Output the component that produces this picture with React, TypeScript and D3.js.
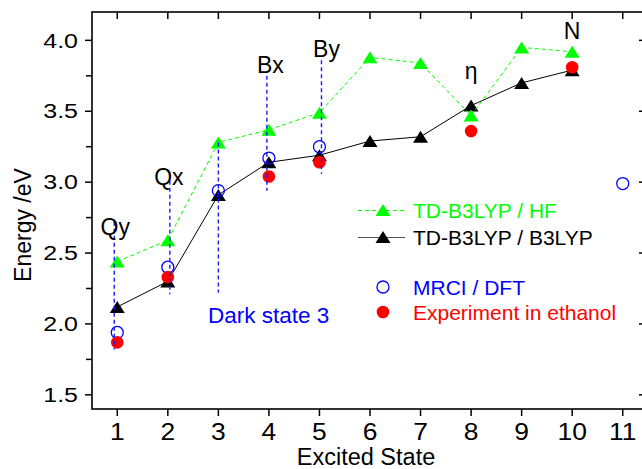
import React from 'react';
import * as d3 from 'd3';

// excited state index 1..10 (11 only for MRCI)
const states = [1, 2, 3, 4, 5, 6, 7, 8, 9, 10];
const hfValues = [2.44, 2.59, 3.28, 3.37, 3.49, 3.88, 3.84, 3.47, 3.95, 3.92];
const b3lypValues = [2.12, 2.3, 2.91, 3.14, 3.19, 3.29, 3.32, 3.54, 3.7, 3.79];
const mrciStates = [1, 2, 3, 4, 5, 11];
const mrciValues = [1.94, 2.4, 2.94, 3.17, 3.25, 2.99];
const exptStates = [1, 2, 4, 5, 8, 10];
const exptValues = [1.87, 2.33, 3.04, 3.14, 3.36, 3.81];

const xTicks = [1, 2, 3, 4, 5, 6, 7, 8, 9, 10, 11];
const yTicks = [1.5, 2.0, 2.5, 3.0, 3.5, 4.0];
const yMinorTicks = [1.75, 2.25, 2.75, 3.25, 3.75];

// blue dashed markers for assigned states
const markX = [0.94, 2.04, 3, 3.96, 5.04];
const markTop = [2.72, 3.01, 3.28, 3.75, 3.86];
const markBottom = [1.82, 2.21, 2.22, 2.94, 3.06];

const stateLabels = ['Qy', 'Qx', 'Bx', 'By', 'η', 'N'];
const labelX = [0.96, 2.02, 4.03, 5.14, 8.0, 10.0];
const labelY = [2.63, 2.98, 3.77, 3.88, 3.73, 4.01];

const W = 642;
const H = 469;
const left = 92, right = 648, top = 12, bottom = 409;
const FONT = '"Liberation Sans", Arial, sans-serif';

const tri = (x: number, y: number) => `M${x},${y - 6}L${x + 7.5},${y + 6}L${x - 7.5},${y + 6}Z`;

export default function App() {
  const x = d3.scaleLinear().domain([0.5, 11.5]).range([left, right]);
  const y = d3.scaleLinear().domain([1.4, 4.2]).range([bottom, top]);

  const line = d3.line<number>()
    .x((d, i) => x(states[i]))
    .y(d => y(d));

  return (
    <svg width={W} height={H} style={{ position: 'absolute', left: 0, top: 0, background: '#fff' }} fontFamily={FONT}>
      {/* series */}
      <path d={line(b3lypValues) || ''} fill="none" stroke="#000" strokeWidth={1} />
      {b3lypValues.map((v, i) => <path key={'b' + i} d={tri(x(states[i]), y(v))} fill="#000" />)}
      <path d={line(hfValues) || ''} fill="none" stroke="#00ff00" strokeWidth={1} strokeDasharray="4,3" />
      {hfValues.map((v, i) => <path key={'g' + i} d={tri(x(states[i]), y(v))} fill="#00ff00" />)}
      {mrciValues.map((v, i) => (
        <circle key={'m' + i} cx={x(mrciStates[i])} cy={y(v)} r={6} fill="none" stroke="#0000ff" strokeWidth={1.3} />
      ))}
      {exptValues.map((v, i) => (
        <circle key={'e' + i} cx={x(exptStates[i])} cy={y(v)} r={6.3} fill="#ff0000" />
      ))}
      {markX.map((m, i) => (
        <line key={'v' + i} x1={x(m)} x2={x(m)} y1={y(markTop[i])} y2={y(markBottom[i])}
          stroke="#1a1aff" strokeWidth={1.4} strokeDasharray="4,3" />
      ))}

      {/* labels */}
      {stateLabels.map((s, i) => (
        <text key={'l' + i} x={x(labelX[i])} y={y(labelY[i])} textAnchor="middle" fontSize={23} fill="#000">{s}</text>
      ))}
      <text x={208} y={323} fontSize={22.5} fill="#0000ff">Dark state 3</text>

      {/* legend */}
      <line x1={358} x2={405} y1={210.5} y2={210.5} stroke="#00ff00" strokeWidth={1} strokeDasharray="4,3" />
      <path d={tri(383, 210)} fill="#00ff00" />
      <text x={413} y={218} fontSize={21} fill="#00ff00">TD-B3LYP / HF</text>
      <line x1={358} x2={405} y1={237.5} y2={237.5} stroke="#555" strokeWidth={1.2} />
      <path d={tri(383, 237)} fill="#000" />
      <text x={413} y={245} fontSize={21} fill="#000">TD-B3LYP / B3LYP</text>
      <circle cx={383} cy={287} r={6} fill="none" stroke="#0000ff" strokeWidth={1.3} />
      <text x={413} y={295} fontSize={21} fill="#0000ff">MRCI / DFT</text>
      <circle cx={383} cy={312} r={6.3} fill="#ff0000" />
      <text x={413} y={320} fontSize={21} fill="#ff0000">Experiment in ethanol</text>

      {/* frame */}
      <rect x={left} y={top} width={right - left} height={bottom - top} fill="none" stroke="#000" strokeWidth={1.6} />
      {xTicks.map(t => (
        <g key={'x' + t}>
          <line x1={x(t)} x2={x(t)} y1={bottom} y2={bottom + 7} stroke="#000" strokeWidth={1.5} />
          <line x1={x(t)} x2={x(t)} y1={top} y2={top + 7} stroke="#000" strokeWidth={1.5} />
          <text transform={`translate(${x(t)},440) scale(1.15,1)`} textAnchor="middle" fontSize={23} fill="#000">{t}</text>
        </g>
      ))}
      {yTicks.map(t => (
        <g key={'y' + t}>
          <line x1={left - 7} x2={left} y1={y(t)} y2={y(t)} stroke="#000" strokeWidth={1.5} />
          <line x1={right - 9} x2={right} y1={y(t)} y2={y(t)} stroke="#000" strokeWidth={1.5} />
          <text transform={`translate(78,${y(t)}) scale(1.22,1)`} textAnchor="end" dominantBaseline="central"
            fontSize={20.5} fill="#000">{t.toFixed(1)}</text>
        </g>
      ))}
      {yMinorTicks.map(t => (
        <line key={'ym' + t} x1={left - 6} x2={left} y1={y(t)} y2={y(t)} stroke="#000" strokeWidth={1.5} />
      ))}

      {/* axis titles */}
      <text transform="translate(31,225) rotate(-90)" textAnchor="middle" fontSize={23} fill="#000">Energy /eV</text>
      <text x={366} y={465} textAnchor="middle" fontSize={23.5} fill="#000">Excited State</text>
    </svg>
  );
}
